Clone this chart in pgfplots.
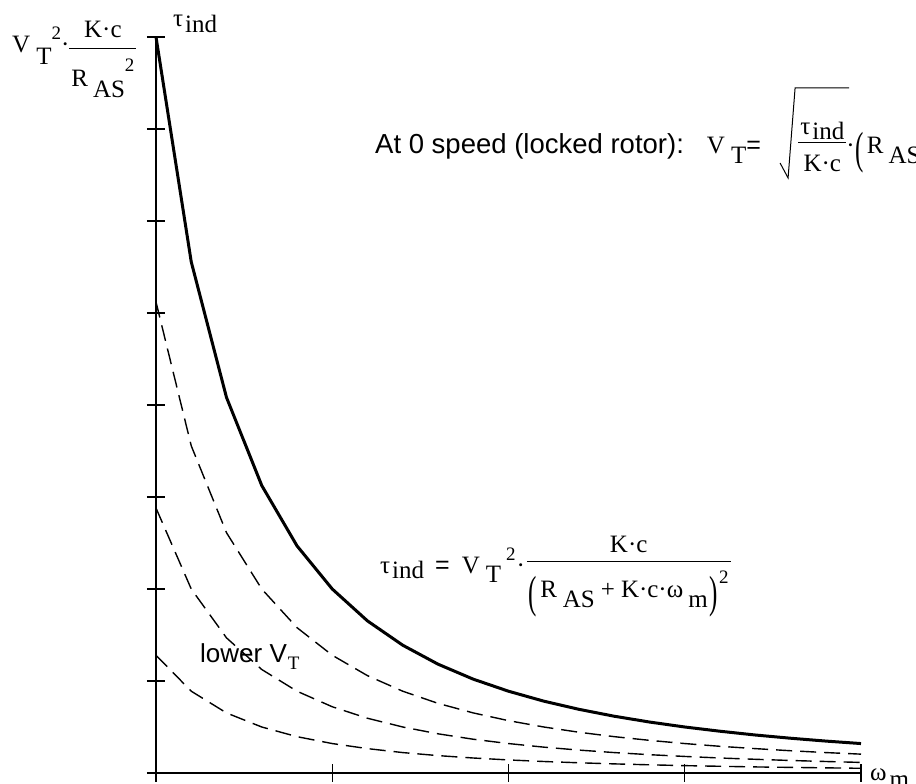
\documentclass[border=0pt]{standalone}
\usepackage{fontspec}
\setmainfont{Liberation Serif}
\newfontfamily\ar{Liberation Sans}
\usepackage{graphicx}
\usepackage{pgfplots}
\pgfplotsset{compat=1.18}

\newcommand\fs[1]{\fontsize{#1}{#1}\selectfont}
% Mathcad-like fraction: #1 num, #2 den, #3 bar height, #4 num rise over bar, #5 den drop under bar
\newbox\frA \newbox\frB \newdimen\frW
\newcommand\Fr[5]{%
  \setbox\frA\hbox{#1}\setbox\frB\hbox{#2}%
  \frW=\wd\frA \ifdim\wd\frB>\frW \frW=\wd\frB\fi
  \advance\frW 4bp
  \rlap{\raisebox{#3}{\rule{\frW}{1bp}}}%
  \rlap{\hbox to\frW{\hss\raisebox{\dimexpr#3+#4\relax}{\box\frA}\hss}}%
  \hbox to\frW{\hss\raisebox{\dimexpr#3-#5\relax}{\box\frB}\hss}}
\newcommand\tallp[1]{\raisebox{-10bp}{\scalebox{1}[1.8]{#1}}}
\newcommand\sq{{\fs{19bp}2}}

\begin{document}
\begin{tikzpicture}[every node/.style={font=\fs{25bp}, inner sep=0pt}]
\useasboundingbox (-156bp,-11bp) rectangle (760bp,773bp);
\clip (-156bp,-11bp) rectangle (760bp,773bp);
\begin{axis}[
    at={(0,0)}, anchor=south west,
    scale only axis, width=705bp, height=736bp,
    xmin=0, xmax=4, ymin=0, ymax=8, enlargelimits=false,
    axis lines=left, axis line style={-, line width=1.2bp},
    xtick={0,1,2,3,4}, ytick={0,1,2,3,4,5,6,7,8},
    xticklabels={}, yticklabels={},
    tick align=center, major tick length=18bp,
    tick style={black, line width=1.2bp},
    clip=false,
]
% full voltage
\addplot[black, line width=3bp, line join=round] coordinates {
(0,8)(0.2,5.556)(0.4,4.082)(0.6,3.125)(0.8,2.469)(1.0,2.0)(1.2,1.653)
(1.4,1.389)(1.6,1.183)(1.8,1.020)(2.0,0.889)(2.2,0.781)(2.4,0.692)
(2.6,0.617)(2.8,0.554)(3.0,0.5)(3.2,0.454)(3.4,0.413)(3.6,0.378)
(3.8,0.347)(4.0,0.32)};
% lower terminal voltages
\addplot[black, line width=1.4bp, dash pattern=on 16bp off 8bp] coordinates {
(0,5.12)(0.2,3.556)(0.4,2.612)(0.6,2.0)(0.8,1.580)(1.0,1.28)(1.2,1.058)
(1.4,0.889)(1.6,0.757)(1.8,0.653)(2.0,0.569)(2.2,0.5)(2.4,0.443)
(2.6,0.395)(2.8,0.355)(3.0,0.32)(3.2,0.290)(3.4,0.265)(3.6,0.242)
(3.8,0.222)(4.0,0.205)};
\addplot[black, line width=1.4bp, dash pattern=on 16bp off 8bp] coordinates {
(0,2.88)(0.2,2.0)(0.4,1.469)(0.6,1.125)(0.8,0.889)(1.0,0.72)(1.2,0.595)
(1.4,0.5)(1.6,0.426)(1.8,0.367)(2.0,0.32)(2.2,0.281)(2.4,0.249)
(2.6,0.222)(2.8,0.199)(3.0,0.18)(3.2,0.163)(3.4,0.149)(3.6,0.136)
(3.8,0.125)(4.0,0.115)};
\addplot[black, line width=1.4bp, dash pattern=on 16bp off 8bp] coordinates {
(0,1.28)(0.2,0.889)(0.4,0.653)(0.6,0.5)(0.8,0.395)(1.0,0.32)(1.2,0.265)
(1.4,0.222)(1.6,0.189)(1.8,0.163)(2.0,0.142)(2.2,0.125)(2.4,0.111)
(2.6,0.099)(2.8,0.089)(3.0,0.08)(3.2,0.073)(3.4,0.066)(3.6,0.061)
(3.8,0.056)(4.0,0.051)};
\end{axis}

% axis names
\node[anchor=base west] at (17bp,746bp) {τ\kern2bp\raisebox{-6bp}{ind}};
\node[anchor=base west] at (714bp,-7bp) {ω\kern3bp\raisebox{-7bp}{m}};
% value at zero speed
\node[anchor=base west] at (-144bp,720bp) {V\kern6bp\raisebox{-12bp}{T}\raisebox{13bp}{\sq}·\Fr{K·c}{R\kern5bp\raisebox{-11bp}{AS}\raisebox{15bp}{\sq}}{4bp}{11bp}{38bp}};
% torque-speed relation
\node[anchor=base west] at (224bp,199bp) {τ\kern2bp\raisebox{-5bp}{ind}\kern11bp{\ar =}\kern12bp V\kern6bp\raisebox{-9bp}{T}\kern5bp\raisebox{13bp}{\sq}\kern1bp·\kern2bp\Fr{K·c}{\tallp{(}\kern3bp R\kern6bp\raisebox{-10bp}{AS}\kern6bp+\kern6bp K·c·ω\kern5bp\raisebox{-10bp}{m}\kern2bp\tallp{)}\kern1bp\raisebox{14bp}{\sq}}{12bp}{9bp}{36bp}};
% locked rotor
\node[anchor=base west] (lr) at (219bp,619bp) {{\fs{27.5bp}\ar At 0 speed (locked rotor):}\kern23bp V\kern6bp\raisebox{-10bp}{T}{\ar =}};
\draw[line width=1bp] ([shift={(19bp,-9bp)}]lr.base east) -- ++(8bp,-15bp) -- ++(7bp,90bp) -- ++(54bp,0pt);
\node[anchor=base west] at ([xshift=37bp]lr.base east) {\Fr{τ\kern2bp\raisebox{-5bp}{ind}}{K·c}{11bp}{8bp}{29bp}·\kern1bp\tallp{(}\kern3bp R\kern5bp\raisebox{-10bp}{AS}};
% lower voltage label
\node[anchor=base west] at (44bp,110bp) {{\fs{26bp}\ar lower V}\kern1bp\raisebox{-7bp}{\fs{19bp}T}};
\end{tikzpicture}
\end{document}
